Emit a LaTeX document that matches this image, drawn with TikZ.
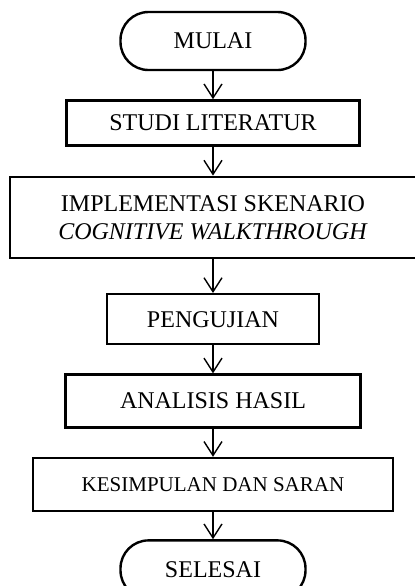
\documentclass[tikz,border=0pt]{standalone}
\usepackage{fontspec}
\setmainfont{Liberation Serif}
\usetikzlibrary{arrows.meta, positioning}

\begin{document}
\begin{tikzpicture}[
    % Node styles
    terminal/.style={
        rectangle, rounded corners=14pt,
        minimum width=92.5pt, minimum height=29pt,
        text centered, font=\fontsize{12}{14}\selectfont,
        draw=black, line width=1.2pt,
    },
    process/.style={
        rectangle, inner sep=2pt,
        align=center, font=\fontsize{12}{14}\selectfont,
        draw=black, line width=1.2pt,
    },
    line/.style={
        draw=black, line width=0.7pt, -{Straight Barb[length=7pt, width=9pt]},
    },
]

% === Canvas ===
\useasboundingbox (0,0) rectangle (207pt,-293pt);

% === Start ===
\node[terminal] (mulai) at (106.5pt,-20.5pt) {MULAI};

% === Steps ===
\node[process, minimum width=146.5pt, minimum height=22.5pt] (studi)
    [below=14pt of mulai] {STUDI LITERATUR};
\node[process, minimum width=203pt, minimum height=40.5pt] (impl)
    [below=14.5pt of studi] {IMPLEMENTASI SKENARIO\\\textit{COGNITIVE WALKTHROUGH}};
\node[process, minimum width=106pt, minimum height=25pt] (uji)
    [below=17pt of impl] {PENGUJIAN};
\node[process, minimum width=147.5pt, minimum height=26.5pt] (analisis)
    [below=14pt of uji] {ANALISIS HASIL};
\node[process, minimum width=180pt, minimum height=26.5pt,
      font=\fontsize{10.5}{12}\selectfont] (simpul)
    [below=14pt of analisis] {KESIMPULAN DAN SARAN};

% === End ===
\node[terminal] (selesai) [below=13.5pt of simpul] {SELESAI};

% === Edges ===
\draw[line] (mulai.south) -- (studi.north);
\draw[line] (studi.south) -- (impl.north);
\draw[line] (impl.south) -- (uji.north);
\draw[line] (uji.south) -- (analisis.north);
\draw[line] (analisis.south) -- (simpul.north);
\draw[line] (simpul.south) -- (selesai.north);

\end{tikzpicture}
\end{document}
